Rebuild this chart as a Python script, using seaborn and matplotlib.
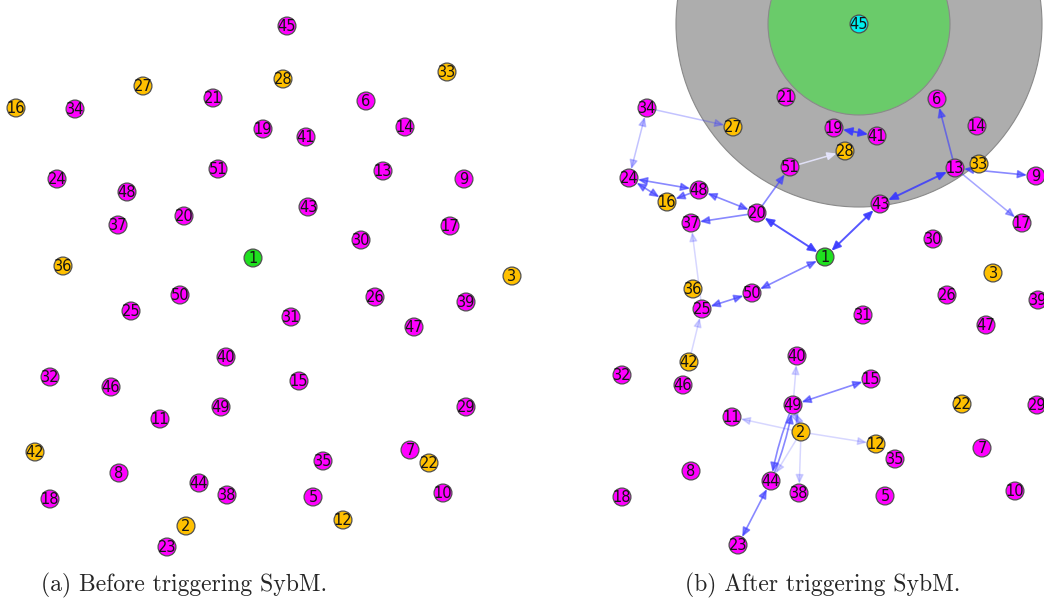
import matplotlib
matplotlib.use("Agg")
import matplotlib.pyplot as plt
import seaborn as sns
import pandas as pd
from matplotlib.patches import Circle

# ---------------- data ----------------
node_ids = [1, 2, 3, 5, 6, 7, 8, 9, 10, 11, 12, 13, 14, 15, 16, 17, 18, 19, 20,
            21, 22, 23, 24, 25, 26, 27, 28, 29, 30, 31, 32, 33, 34, 35, 36, 37,
            38, 39, 40, 41, 42, 43, 44, 45, 46, 47, 48, 49, 50, 51]

# panel (a) positions
a_x = [253, 186, 512, 313, 366, 410, 119, 464, 443, 160, 343, 383, 405, 299, 16, 450, 50, 263, 184,
       213, 429, 167, 57, 131, 375, 143, 283, 466, 361, 291, 50, 447, 75, 323, 63, 118,
       227, 466, 226, 306, 35, 308, 199, 287, 111, 414, 127, 221, 180, 218]
a_y = [258, 526, 276, 497, 101, 450, 473, 179, 493, 419, 520, 171, 127, 381, 108, 226, 499, 129, 216,
       98, 463, 547, 179, 311, 297, 86, 79, 407, 240, 317, 377, 72, 109, 461, 266, 225,
       495, 302, 357, 137, 452, 207, 483, 26, 387, 327, 192, 407, 295, 169]

# panel (b) positions
b_x = [825, 801, 993, 885, 937, 982, 691, 1036, 1015, 732, 876, 955, 977, 871, 667, 1022, 622, 834, 757,
       786, 962, 738, 629, 702, 947, 733, 845, 1037, 933, 863, 622, 979, 647, 895, 693, 691,
       799, 1038, 797, 877, 689, 880, 771, 859, 683, 986, 699, 793, 752, 790]
b_y = [257, 432, 273, 496, 99, 448, 471, 176, 491, 417, 444, 168, 126, 379, 202, 223, 497, 128, 213,
       97, 404, 545, 178, 309, 295, 127, 151, 405, 239, 315, 375, 164, 108, 459, 289, 223,
       493, 300, 356, 136, 362, 204, 481, 24, 385, 325, 190, 405, 293, 167]

source_node = [1]
sybil_nodes = [2, 3, 12, 16, 22, 27, 28, 33, 36, 42]
target_node_b = [45]

# panel (b) edges: (from, to, both-directions, strength)
edges_b = [
    (34, 27, False, "light"), (34, 24, True, "light"),
    (24, 48, True, "mid"), (24, 16, True, "mid"), (48, 16, False, "mid"),
    (48, 20, True, "mid"), (20, 51, False, "mid"), (20, 37, False, "mid"),
    (20, 1, True, "strong"), (51, 28, False, "white"),
    (19, 41, True, "strong"), (1, 43, True, "strong"), (43, 13, True, "strong"),
    (13, 6, False, "mid"), (13, 9, True, "mid"), (13, 17, False, "light2"),
    (1, 50, True, "mid"), (50, 25, True, "mid"), (25, 37, False, "faint"),
    (42, 25, False, "faint"), (49, 15, True, "mid"), (49, 40, False, "faint"),
    (2, 11, False, "faint"), (2, 12, False, "faint"), (2, 38, False, "faint"),
    (2, 44, False, "faint"), (49, 2, False, "light"), (2, 49, False, "light"),
    (49, 44, False, "mid"), (44, 49, False, "mid"),
    (44, 23, True, "mid"),
]

# radii (pixels) of the zones around the target node in (b)
inner_r = 91
outer_r = 183

caption_a = "(a) Before triggering SybM."
caption_b = "(b) After triggering SybM."

# ---------------- drawing ----------------
sns.set_theme(style="white")
plt.rcParams["font.family"] = ["DejaVu Sans"]

palette = {"source": "#1fe01f", "sybil": "#ffc000", "honest": "#ff00ff", "target": "#00f0f0"}


def kind(n, panel):
    if n in source_node:
        return "source"
    if n in sybil_nodes:
        return "sybil"
    if panel == "b" and n in target_node_b:
        return "target"
    return "honest"


df_a = pd.DataFrame({"node": node_ids, "x": a_x, "y": a_y,
                     "kind": [kind(n, "a") for n in node_ids]})
df_b = pd.DataFrame({"node": node_ids, "x": b_x, "y": b_y,
                     "kind": [kind(n, "b") for n in node_ids]})

W, H = 1044, 610
fig = plt.figure(figsize=(W / 100, H / 100), dpi=100)
ax_a = fig.add_axes([0, 0, 0.5, 1])
ax_b = fig.add_axes([0.5, 0, 0.5, 1])
ax_a.set_xlim(0, W / 2)
ax_b.set_xlim(W / 2, W)
for ax in (ax_a, ax_b):
    ax.set_ylim(H, 0)
    ax.set_axis_off()

# zones in (b)
cx = b_x[node_ids.index(45)]
cy = b_y[node_ids.index(45)]
ax_b.add_patch(Circle((cx, cy), outer_r, facecolor="#adadad", edgecolor="#8a8a8a",
                      lw=0.8, zorder=0))
ax_b.add_patch(Circle((cx, cy), inner_r, facecolor="#6acb6a", edgecolor="#8a8a8a",
                      lw=0.8, zorder=1))

# edges in (b)
color_map = {"strong": "#3a3aff", "mid": "#3a3aff", "light2": "#3a3aff",
             "light": "#3a3aff", "faint": "#3a3aff", "white": "#e6e6ff"}
alpha_map = {"strong": 0.85, "mid": 0.6, "light2": 0.45, "light": 0.3, "faint": 0.2, "white": 0.9}
lw_map = {"strong": 1.4, "mid": 1.2, "light2": 1.1, "light": 1.1, "faint": 1.1, "white": 1.1}
pos_b = dict(zip(node_ids, zip(b_x, b_y)))
pairs = {(s, t) for s, t, _, _ in edges_b}
for s, t, both, st in edges_b:
    head = "head_length=0.45,head_width=0.2"
    style = ("<|-|>," if both else "-|>,") + head
    conn = "arc3,rad=0.06" if (t, s) in pairs else "arc3,rad=0"
    ax_b.annotate("", xy=pos_b[t], xytext=pos_b[s],
                  arrowprops=dict(arrowstyle=style, color=color_map[st], alpha=alpha_map[st],
                                  lw=lw_map[st], shrinkA=6.5, shrinkB=6.5, mutation_scale=12,
                                  connectionstyle=conn),
                  zorder=2)

for ax, df in ((ax_a, df_a), (ax_b, df_b)):
    sns.scatterplot(data=df, x="x", y="y", hue="kind", palette=palette, s=165,
                    edgecolor="#505050", linewidth=0.9, legend=False, ax=ax, zorder=3)
    for n, x, y in zip(df["node"], df["x"], df["y"]):
        ax.text(x, y + 0.5, str(n), ha="center", va="center", fontsize=10.5,
                color="#151515", zorder=4)
    ax.set_xlabel("")
    ax.set_ylabel("")
    ax.set_axis_off()

fig.text(184 / W, 1 - 585 / H, caption_a, ha="center", va="center",
         fontsize=17, family="cmr10")
fig.text(823 / W, 1 - 585 / H, caption_b, ha="center", va="center",
         fontsize=17, family="cmr10")

fig.savefig("out.png", dpi=100)
